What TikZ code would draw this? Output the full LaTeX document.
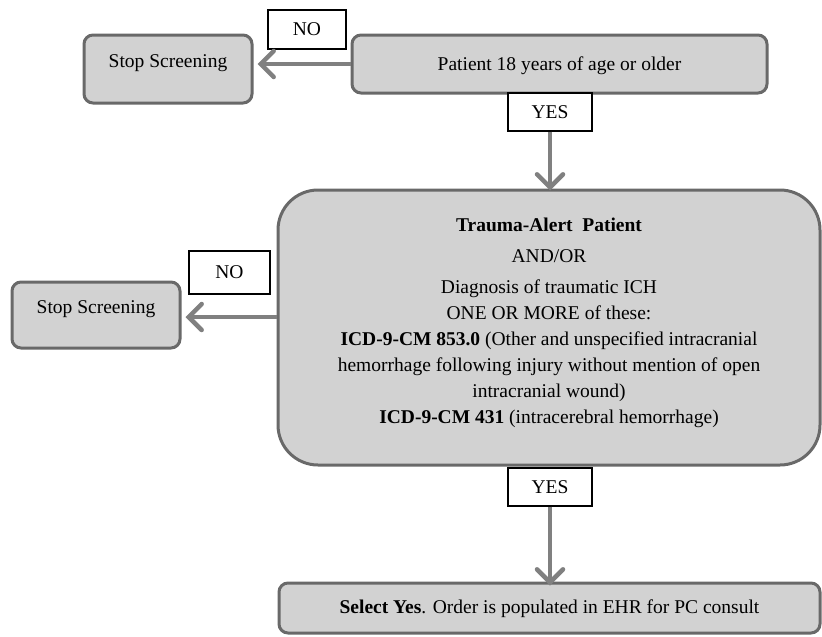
\documentclass[tikz,border=0pt]{standalone}
\usepackage{fontspec}
\setmainfont{Liberation Serif}
\usetikzlibrary{arrows.meta}
\definecolor{boxfill}{RGB}{210,210,210}
\definecolor{boxline}{RGB}{105,105,105}
\definecolor{arrcol}{RGB}{128,128,128}
\tikzset{
  box/.style={draw=boxline, fill=boxfill, line width=3pt, rounded corners=9pt, inner sep=0pt, align=center, font=\fontsize{19.5}{26}\selectfont},
  lbl/.style={draw=black, fill=white, line width=1.3pt, inner sep=0pt, font=\fontsize{19.5}{24}\selectfont},
  arr/.style={draw=arrcol, line width=4.5pt, -{Straight Barb[length=13pt,width=26pt,line cap=round]}},
}
\begin{document}
\begin{tikzpicture}[x=1pt,y=-1pt]
\useasboundingbox (0,0) rectangle (822,637);
% top row
\node[box, minimum width=168pt, text height=32pt, text depth=36pt] (stop1) at (168,69) {Stop Screening};
\node[box, minimum width=415pt, text height=35pt, text depth=23pt] (pat) at (559.5,64) {Patient 18 years of age or older};
% big box
\node[box, rounded corners=40pt, minimum width=542pt, minimum height=275pt] (big) at (549,327.5)
  {\textbf{Trauma-Alert\ \ Patient}\\[5pt]
   AND/OR\\[5pt]
   Diagnosis of traumatic ICH\\
   ONE OR MORE of these:\\
   \textbf{ICD-9-CM 853.0} (Other and unspecified intracranial\\
   hemorrhage following injury without mention of open\\
   intracranial wound)\\
   \textbf{ICD-9-CM 431} (intracerebral hemorrhage)\\[-12pt]};
\node[box, minimum width=168pt, text height=31pt, text depth=35pt] (stop2) at (96,315) {Stop Screening};
% final box
\node[box, minimum width=541pt, text height=30pt, text depth=20pt] (final) at (549.5,608) {\textbf{Select Yes}. Order is populated in EHR for PC consult};
% labels
\node[lbl, minimum width=78pt, minimum height=39pt] (no1) at (307,29.5) {NO};
\node[lbl, minimum width=84pt, minimum height=38pt] (yes1) at (550,112) {YES};
\node[lbl, minimum width=81pt, minimum height=43pt] (no2) at (229.5,272.5) {NO};
\node[lbl, minimum width=84pt, minimum height=38pt] (yes2) at (550,487) {YES};
% connectors
\draw[arr] (pat.west) -- ([xshift=4pt]pat.west -| stop1.east);
\draw[arr] (yes1.south) -- ([yshift=-2pt]yes1.south |- big.north);
\draw[arr] ([yshift=-2pt]stop2.east -| big.west) -- ([xshift=4pt,yshift=-2pt]stop2.east);
\draw[arr] (yes2.south) -- ([yshift=-4pt]yes2.south |- final.north);
\end{tikzpicture}
\end{document}
